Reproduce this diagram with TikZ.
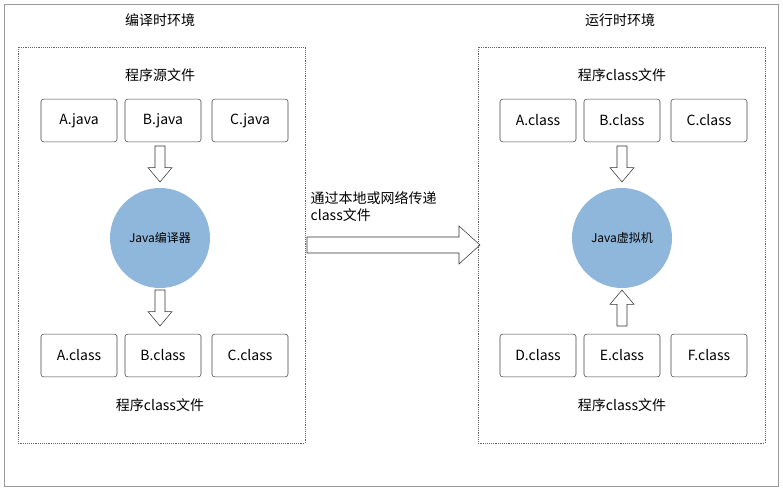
\documentclass[tikz,border=0pt]{standalone}
\usepackage{fontspec}
\setmainfont{Noto Sans CJK SC}
\usetikzlibrary{positioning}
\definecolor{ballblue}{RGB}{143,183,220}
\tikzset{
  file/.style={draw=black!75,rounded corners=2pt,minimum width=57pt,minimum height=32pt,font=\fontsize{10.5}{12}\selectfont},
  lbl/.style={font=\fontsize{10.5}{12}\selectfont},
  ball/.style={circle,fill=ballblue,minimum size=75pt,inner sep=0pt,font=\fontsize{9}{11}\selectfont},
  env/.style={draw=black!60,densely dotted},
  hollow/.style={draw=black!80,fill=white}
}
\newcommand{\hollowarrow}[3]{% x, tail y, tip y
  \draw[hollow] (#1-5,#2) -- (#1+5,#2) -- (#1+5,{#2+0.6*(#3-#2)}) -- (#1+12,{#2+0.6*(#3-#2)})
    -- (#1,#3) -- (#1-12,{#2+0.6*(#3-#2)}) -- (#1-5,{#2+0.6*(#3-#2)}) -- cycle;}
\begin{document}
\begin{tikzpicture}[x=0.75pt,y=-0.75pt]
\useasboundingbox (0,0) rectangle (783,490);
\draw[black!40] (4,4) rectangle (778,486);
% compile time
\node[lbl] (ctitle) at (160,20) {编译时环境};
\draw[env] (18,47) rectangle (305,443);
\node[lbl] (srclbl) at (160,75) {程序源文件};
\node[file] (ajava) at (79,120.5) {A.java};
\node[file] (bjava) at (163,120.5) {B.java};
\node[file] (cjava) at (250,120.5) {C.java};
\node[ball] (javac) at (160,238) {Java编译器};
\node[file] (acls) at (79,355.5) {A.class};
\node[file] (bcls) at (163,355.5) {B.class};
\node[file] (ccls) at (250,355.5) {C.class};
\node[lbl] (clslbl) at (160,405) {程序class文件};
\hollowarrow{160}{146}{182}
\hollowarrow{160}{290}{326}
% transfer
\node[lbl,anchor=west] (via) at (306,198) {通过本地或网络传递};
\node[lbl,anchor=west] (via2) at (306,215) {class文件};
\draw[hollow] (307,237) -- (459,237) -- (459,226) -- (480,245) -- (459,264) -- (459,253) -- (307,253) -- cycle;
% run time
\node[lbl] (rtitle) at (620,20) {运行时环境};
\draw[env] (478,47) rectangle (765,443);
\node[lbl] (rlbl) at (622,75) {程序class文件};
\node[file] (racls) at (538,120.5) {A.class};
\node[file] (rbcls) at (622,120.5) {B.class};
\node[file] (rccls) at (709,120.5) {C.class};
\node[ball] (jvm) at (622,238) {Java虚拟机};
\node[file] (rdcls) at (538,355.5) {D.class};
\node[file] (recls) at (622,355.5) {E.class};
\node[file] (rfcls) at (709,355.5) {F.class};
\node[lbl] (rlbl2) at (622,405) {程序class文件};
\hollowarrow{622}{146}{182}
\hollowarrow{622}{326}{290}
\end{tikzpicture}
\end{document}
